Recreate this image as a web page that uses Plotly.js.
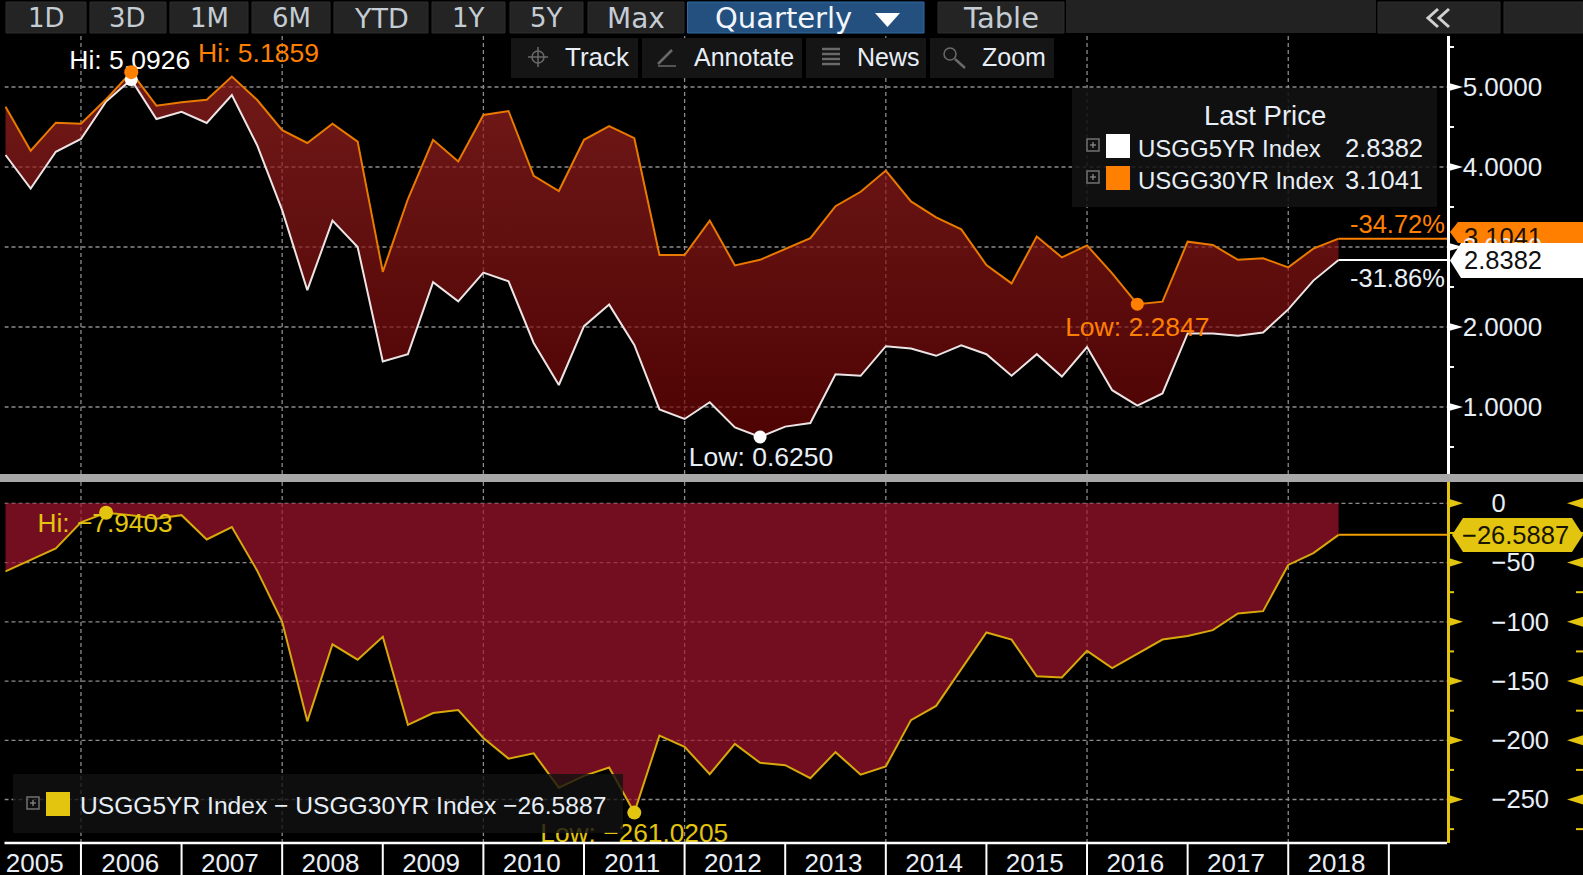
<!DOCTYPE html>
<html>
<head>
<meta charset="utf-8">
<script src="https://cdn.plot.ly/plotly-3.0.1.min.js"></script>
<style>html,body{margin:0;padding:0;background:#000;overflow:hidden}</style>
</head>
<body>
<div id="chart" style="width:1583px;height:875px"></div>
<script>
const quarters = [2005.25,2005.5,2005.75,2006,2006.25,2006.5,2006.75,2007,2007.25,2007.5,2007.75,2008,2008.25,2008.5,2008.75,2009,2009.25,2009.5,2009.75,2010,2010.25,2010.5,2010.75,2011,2011.25,2011.5,2011.75,2012,2012.25,2012.5,2012.75,2013,2013.25,2013.5,2013.75,2014,2014.25,2014.5,2014.75,2015,2015.25,2015.5,2015.75,2016,2016.25,2016.5,2016.75,2017,2017.25,2017.5,2017.75,2018,2018.25,2018.5];
const usgg5yr = [4.15,3.73,4.19,4.35,4.82,5.0926,4.60,4.69,4.55,4.90,4.275,3.46,2.46,3.33,3.0,1.57,1.66,2.56,2.32,2.68,2.57,1.80,1.275,2.01,2.28,1.775,0.97,0.85,1.06,0.745,0.625,0.755,0.80,1.41,1.39,1.76,1.73,1.64,1.77,1.66,1.39,1.66,1.38,1.75,1.21,1.017,1.17,1.92,1.92,1.89,1.93,2.22,2.58,2.8382];
const usgg30yr = [4.754,4.204,4.554,4.54,4.846,5.1859,4.767,4.81,4.84,5.13,4.84,4.46,4.30,4.54,4.317,2.69,3.60,4.34,4.07,4.65,4.70,3.89,3.70,4.34,4.51,4.36,2.90,2.90,3.33,2.77,2.84,2.98,3.11,3.51,3.69,3.955,3.57,3.37,3.22,2.775,2.545,3.13,2.87,3.02,2.67,2.2847,2.317,3.067,3.025,2.84,2.86,2.745,2.98,3.1041];
const spread = [-57.4,-48,-38,-16,-7.9403,-10,-13,-10,-30.5,-20,-56.6,-100,-184,-119,-132,-112.6,-187,-177,-174.5,-198,-215.5,-211,-240,-230,-223,-261.0205,-196,-205.5,-228.6,-203,-219,-221,-232,-210,-229,-222,-183,-171,-140,-109,-115,-146,-147,-124.5,-139,-127,-115,-112,-107,-93,-91,-52,-42,-26.5887];
const yearTicks = [2006,2007,2008,2009,2010,2011,2012,2013,2014,2015,2016,2017,2018,2019];
const gridYears = [2006,2008,2010,2012,2014,2016,2018];
const yearLabelPos = [2005.54,2006.49,2007.48,2008.48,2009.48,2010.48,2011.48,2012.48,2013.48,2014.48,2015.48,2016.48,2017.48,2018.48];
const yearLabels = ['2005','2006','2007','2008','2009','2010','2011','2012','2013','2014','2015','2016','2017','2018'];
const topMajor = [1,2,3,4,5];
const topMinor = [0.5,1.5,2.5,3.5,4.5,5.5];
const lowMajor = [0,-50,-100,-150,-200,-250];
const lowMinor = [-25,-75,-125,-175,-225,-275];
const rangeButtons = [['1D',6,86,26],['3D',90,166,26],['1M',170,248,26],['6M',252,330,26],['YTD',334,428,27],['1Y',432,505,26],['5Y',510,583,26],['Max',588,684,28]];
const toolButtons = [['Track',511,638,597,26],['Annotate',642,802,744,25],['News',806,926,888,25],['Zoom',930,1054,1014,25]];

const W=1583,H=875, AX=1447;
const X=p=>p/W, Y=p=>1-p/H;
const XEND=2019.578, XSTART=2005.24;
const TOPR=[0.1625,5.6375], LOWR=[-286.7,18];
const FONT='Liberation Sans, Arial, sans-serif';
const UI='DejaVu Sans, sans-serif';
const ORANGE='#ff8000', WHITE='#ffffff', GOLD='#e3c40f', TXT='#e8eef6', GRID='#8c8c8c';
const last=a=>a[a.length-1];

const shapes=[], ann=[];
function rect(x0,y0,x1,y1,fill,line,layer){shapes.push({type:'rect',xref:'paper',yref:'paper',x0:X(x0),x1:X(x1),y0:Y(y0),y1:Y(y1),fillcolor:fill,line:{width:line?1:0,color:line||fill},layer:layer||'above'});}
function pathPx(pts,closed,fill,color,w,layer){
  const d=pts.map((p,i)=>(i?'L':'M')+X(p[0])+','+Y(p[1])).join(' ')+(closed?' Z':'');
  shapes.push({type:'path',xref:'paper',yref:'paper',path:d,fillcolor:fill||'rgba(0,0,0,0)',line:{width:w||0,color:color||'rgba(0,0,0,0)'},layer:layer||'above'});
}
function circPx(cx,cy,r,color,w){shapes.push({type:'circle',xref:'paper',yref:'paper',x0:X(cx-r),x1:X(cx+r),y0:Y(cy+r),y1:Y(cy-r),line:{width:w,color:color},fillcolor:'rgba(0,0,0,0)',layer:'above'});}
function label(t,x,y,size,color,font,anchor){ann.push({text:t,xref:'paper',yref:'paper',x:X(x),y:Y(y),xanchor:anchor||'center',yanchor:'middle',showarrow:false,font:{family:font||FONT,size:size,color:color||TXT}});}

// dashed grid, under the traces so that it shows faintly through the fills
function gridLines(xa,ya,yr,yvals){
  gridYears.forEach(v=>shapes.push({type:'line',xref:xa,yref:ya,x0:v,x1:v,y0:yr[0],y1:yr[1],line:{color:GRID,width:1.3,dash:'4px,3px'},layer:'between'}));
  yvals.forEach(v=>shapes.push({type:'line',xref:xa,yref:ya,x0:XSTART,x1:XEND,y0:v,y1:v,line:{color:GRID,width:1.3,dash:'4px,3px'},layer:'between'}));
}
gridLines('x','y',TOPR,topMajor);
gridLines('x2','y2',LOWR,lowMajor);

// toolbar
rangeButtons.forEach(b=>{rect(b[1],2,b[2],33,'#242424','#2c2c2c');label(b[0],(b[1]+b[2])/2,18,b[3],'#c4ccd4',UI);});
rect(687.5,2,924,33,'#24507f','#2f6aa3');
label('Quarterly',783,18,29,'#f2f6fa',UI);
pathPx([[875,13],[900,13],[887.5,27]],true,'#ffffff');
rect(938,2,1064,33,'#242424','#2c2c2c');label('Table',1001,18,29,'#c4ccd4',UI);
rect(1066,0,1376,33,'#222222');
rect(1378,2,1500,33,'#242424','#2c2c2c');
rect(1504,2,1583,33,'#242424','#2c2c2c');
pathPx([[1438,9],[1428,18],[1438,27]],false,null,'#d0d0d0',3);
pathPx([[1449,9],[1439,18],[1449,27]],false,null,'#d0d0d0',3);
// secondary tools
toolButtons.forEach(b=>{rect(b[1],38,b[2],78,'#151515');label(b[0],b[3],57,b[4],TXT);});
circPx(538,57,6,'#6a6a6a',1.5);
pathPx([[538,47],[538,67]],false,null,'#6a6a6a',1.5);pathPx([[528,57],[548,57]],false,null,'#6a6a6a',1.5);
pathPx([[658,64],[672,50]],false,null,'#6a6a6a',2.5);pathPx([[658,66],[676,66]],false,null,'#6a6a6a',1.5);
[49,54,59,64].forEach(y=>pathPx([[822,y],[840,y]],false,null,'#6a6a6a',2.5));
circPx(950,54,6,'#6a6a6a',1.5);pathPx([[955,59],[965,68]],false,null,'#6a6a6a',2.5);

// panel separator & bottom axis
rect(0,474,W,482,'#a8a8a8');
pathPx([[4.5,843],[AX,843]],false,null,'#ffffff',2.5);
yearTicks.forEach(v=>shapes.push({type:'line',xref:'x2',yref:'paper',x0:v,x1:v,y0:Y(843),y1:Y(875),line:{color:'#ffffff',width:2},layer:'above'}));

// right axes decorations
const pxUnitTop=80, pxUnitLow=1.185;
function tri(ya,v,x0,x1,dv,col){shapes.push({type:'path',xref:'paper',yref:ya,path:`M ${X(x0)},${v+dv} L ${X(x1)},${v} L ${X(x0)},${v-dv} Z`,fillcolor:col,line:{width:0},layer:'above'});}
function tick(ya,v,x0,x1,col){shapes.push({type:'line',xref:'paper',yref:ya,x0:X(x0),x1:X(x1),y0:v,y1:v,line:{color:col,width:2},layer:'above'});}
topMajor.forEach(v=>tri('y',v,AX,AX+16,4.5/pxUnitTop,'#ffffff'));
topMinor.forEach(v=>tick('y',v,AX,AX+7,'#ffffff'));
lowMajor.forEach(v=>{tri('y2',v,AX,AX+16,5/pxUnitLow,GOLD);tri('y2',v,W,W-16,5/pxUnitLow,GOLD);});
lowMinor.forEach(v=>{tick('y2',v,AX,AX+7,GOLD);tick('y2',v,W-7,W,GOLD);});

// value tags
pathPx([[1450,232],[1458,222],[W,222],[W,243],[1458,243]],true,ORANGE,null,0,'below');
pathPx([[1450,260.5],[1461,243],[W,243],[W,278],[1461,278]],true,'#ffffff');
label('2.8382',1503,260,25.5,'#101010');
pathPx([[1452,535],[1463,518],[1572,518],[1583,535],[1572,552],[1463,552]],true,GOLD);
label('\u221226.5887',1515,535,25.5,'#181400');

label('-34.72%',1447,224,25.5,ORANGE,FONT,'right');
label('-31.86%',1447,278,25.5,TXT,FONT,'right');

// legend boxes
shapes.push({type:'rect',xref:'paper',yref:'paper',x0:X(1072),x1:X(1437),y0:Y(207),y1:Y(88),fillcolor:'rgba(18,18,18,0.88)',line:{width:0},layer:'above'});
label('Last Price',1265,116,27.5,TXT);
function plus(x,y){shapes.push({type:'rect',xref:'paper',yref:'paper',x0:X(x-6),x1:X(x+6),y0:Y(y+6),y1:Y(y-6),line:{color:'#707070',width:1.5},fillcolor:'rgba(0,0,0,0)',layer:'above'});
  pathPx([[x-3,y],[x+3,y]],false,null,'#909090',1.2);pathPx([[x,y-3],[x,y+3]],false,null,'#909090',1.2);}
plus(1093,145);rect(1106,134,1130,158,'#ffffff');
plus(1093,177);rect(1106,166,1130,190,ORANGE);
label('USGG5YR Index',1136,148,24,TXT,FONT,'left');
label('2.8382',1425,148,25.5,TXT,FONT,'right');
label('USGG30YR Index',1136,180,24,TXT,FONT,'left');
label('3.1041',1425,180,25.5,TXT,FONT,'right');

shapes.push({type:'rect',xref:'paper',yref:'paper',x0:X(13),x1:X(623),y0:Y(833),y1:Y(774),fillcolor:'rgba(18,18,18,0.8)',line:{width:0},layer:'above'});
plus(33,803);rect(46,792,70,816,GOLD);
label('USGG5YR Index \u2212 USGG30YR Index \u221226.5887',78,805,24.6,TXT,FONT,'left');

const lineEnd=[last(quarters),XEND];
const fnt=(c,s)=>({family:FONT,size:s||25,color:c});
const data=[
 {x:quarters,y:usgg5yr,xaxis:'x',yaxis:'y',mode:'lines',line:{color:'#ece4e4',width:2},hoverinfo:'skip'},
 {x:quarters,y:usgg30yr,xaxis:'x',yaxis:'y',mode:'lines',line:{color:'#e87a00',width:2},fill:'tonexty',hoverinfo:'skip',
  fillcolor:'rgba(150,28,28,0.7)',
  fillgradient:{type:'vertical',colorscale:[[0,'rgba(112,4,4,0.7)'],[1,'rgba(162,36,36,0.7)']]}},
 {x:lineEnd,y:[last(usgg30yr),last(usgg30yr)],xaxis:'x',yaxis:'y',mode:'lines',line:{color:ORANGE,width:2},hoverinfo:'skip'},
 {x:lineEnd,y:[last(usgg5yr),last(usgg5yr)],xaxis:'x',yaxis:'y',mode:'lines',line:{color:'#ffffff',width:2},hoverinfo:'skip'},
 {x:[2006.485,2007.765,2012.76,2016.5],y:[5.305,5.4,0.345,1.97],xaxis:'x',yaxis:'y',mode:'text',
  text:['Hi: 5.0926','Hi: 5.1859','Low: 0.6250','Low: 2.2847'],textposition:'middle center',
  textfont:{family:FONT,size:26.5,color:['#ffffff',ORANGE,'#e8eef6',ORANGE]},hoverinfo:'skip',cliponaxis:false},
 {x:[2006.5],y:[5.0926],xaxis:'x',yaxis:'y',mode:'markers',marker:{color:'#ffffff',size:13},hoverinfo:'skip',cliponaxis:false},
 {x:[2006.5],y:[5.1859],xaxis:'x',yaxis:'y',mode:'markers',marker:{color:ORANGE,size:14},hoverinfo:'skip',cliponaxis:false},
 {x:[2012.75],y:[0.625],xaxis:'x',yaxis:'y',mode:'markers',marker:{color:'#ffffff',size:13},hoverinfo:'skip',cliponaxis:false},
 {x:[2016.5],y:[2.2847],xaxis:'x',yaxis:'y',mode:'markers',marker:{color:ORANGE,size:13},hoverinfo:'skip',cliponaxis:false},

 {x:quarters,y:spread,xaxis:'x2',yaxis:'y2',mode:'lines',line:{color:'#d8a80c',width:2},fill:'tozeroy',fillcolor:'rgba(163,20,46,0.7)',hoverinfo:'skip'},
 {x:lineEnd,y:[last(spread),last(spread)],xaxis:'x2',yaxis:'y2',mode:'lines',line:{color:'#f0a000',width:2},hoverinfo:'skip'},
 {x:[2006.24,2011.5],y:[-19,-280],xaxis:'x2',yaxis:'y2',mode:'text',text:['Hi: \u22127.9403','Low: \u2212261.0205'],textposition:'middle center',
  textfont:{family:FONT,size:26.3,color:GOLD},hoverinfo:'skip'},
 {x:[2006.25,2011.5],y:[-7.9403,-261.0205],xaxis:'x2',yaxis:'y2',mode:'markers',marker:{color:GOLD,size:14},hoverinfo:'skip',cliponaxis:false},

 {x:[1503],y:[240],xaxis:'x3',yaxis:'y3',mode:'text',text:['3.1041'],textposition:'middle center',textfont:{family:FONT,size:25.5,color:'#201000'},hoverinfo:'skip',cliponaxis:false}
];

const layout={
 width:W,height:H,autosize:false,margin:{l:0,r:0,t:0,b:0,pad:0},
 paper_bgcolor:'#000',plot_bgcolor:'rgba(0,0,0,0)',showlegend:false,dragmode:false,
 shapes:shapes,annotations:ann,
 xaxis:{domain:[X(4.5),X(AX)],range:[XSTART,XEND],anchor:'y',showgrid:false,zeroline:false,showticklabels:false,ticks:'',showline:false},
 xaxis2:{domain:[X(4.5),X(AX)],range:[XSTART,XEND],anchor:'y2',tickmode:'array',tickvals:yearLabelPos,ticktext:yearLabels,ticks:'',showline:false,showgrid:false,zeroline:false,
   tickfont:fnt('#e8eef6',26),ticklabelstandoff:2},
 yaxis:{domain:[Y(474),Y(36)],range:TOPR,anchor:'x',side:'right',tickmode:'array',tickvals:topMajor,tickformat:'.4f',showgrid:false,zeroline:false,
   ticks:'outside',ticklen:8,tickcolor:'rgba(0,0,0,0)',tickfont:fnt(TXT,26),showline:true,linecolor:'#ffffff',linewidth:2.5},
 yaxis2:{domain:[Y(843),Y(482)],range:LOWR,anchor:'x2',side:'right',tickmode:'array',tickvals:lowMajor,showgrid:false,zeroline:false,
   ticks:'outside',ticklen:37,tickcolor:'rgba(0,0,0,0)',tickfont:fnt(TXT,25.5),showline:true,linecolor:GOLD,linewidth:2.5},
 xaxis3:{domain:[0,1],range:[0,W],visible:false,anchor:'y3'},
 yaxis3:{domain:[0,1],range:[H,0],visible:false,anchor:'x3'}
};

Plotly.newPlot('chart',data,layout,{displayModeBar:false,staticPlot:true});
</script>
</body>
</html>
